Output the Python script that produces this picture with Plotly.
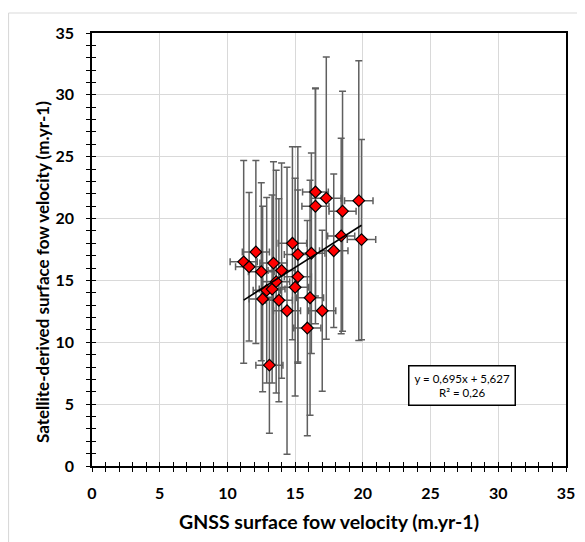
import plotly.graph_objects as go

# GNSS (x) vs satellite-derived (y) surface flow velocity, m/yr
gnss = [11.2, 11.6, 12.1, 12.5, 12.6, 12.9, 13.3, 13.4, 13.1, 13.6,
        13.8, 14.0, 14.4, 14.8, 15.0, 15.2, 15.2, 15.9, 16.1, 16.2,
        16.5, 16.5, 17.0, 17.3, 17.85, 18.4, 18.5, 19.7, 19.9]
sat = [16.5, 16.1, 17.3, 15.7, 13.5, 14.2, 14.3, 16.4, 8.15, 14.9,
       13.4, 15.8, 12.55, 18.0, 14.45, 17.1, 15.3, 11.15, 13.6, 17.2,
       21.0, 22.15, 12.55, 21.65, 17.4, 18.6, 20.6, 21.45, 18.3]
gnss_err = [1.0, 1.0, 1.0, 0.95, 1.0, 1.0, 0.95, 1.0, 1.0, 1.0,
            1.0, 1.0, 1.0, 1.05, 1.0, 1.0, 1.0, 1.0, 1.0, 1.0,
            1.0, 0.95, 1.0, 1.1, 1.05, 1.0, 1.0, 1.05, 1.05]
sat_err = [8.2, 6.0, 7.4, 7.2, 7.5, 7.5, 7.6, 8.2, 5.5, 9.0,
           8.2, 8.7, 11.6, 7.8, 8.8, 8.7, 7.0, 8.7, 9.5, 8.1,
           9.5, 8.4, 6.5, 11.4, 6.2, 7.9, 9.7, 11.3, 8.1]

slope = 0.695
intercept = 5.627
eq_text = "y = 0,695x + 5,627<br>R² = 0,26"

x_title = "GNSS surface fow velocity (m.yr-1)"
y_title = "Satellite-derived surface fow velocity (m.yr-1)"
axis_range = [0, 35]

FONT = "Lato"

fig = go.Figure()

fig.add_trace(go.Scatter(
    x=gnss, y=sat, mode="markers",
    marker=dict(symbol="diamond", size=9, color="#ff0000",
                line=dict(color="black", width=1.2)),
    error_y=dict(type="data", array=sat_err, visible=True,
                 color="#5f5f5f", thickness=1.5, width=3.5),
    error_x=dict(type="data", array=gnss_err, visible=True,
                 color="#5f5f5f", thickness=1.5, width=3.5),
    showlegend=False, hoverinfo="skip"))

x0, x1 = min(gnss), max(gnss)
fig.add_trace(go.Scatter(
    x=[x0, x1], y=[slope * x0 + intercept, slope * x1 + intercept],
    mode="lines", line=dict(color="black", width=1.6),
    showlegend=False, hoverinfo="skip"))

# invisible trace for overlay axes (inner half of cross ticks)
fig.add_trace(go.Scatter(x=[0], y=[0], xaxis="x2", yaxis="y2",
                         mode="markers", marker=dict(opacity=0),
                         showlegend=False, hoverinfo="skip"))

common = dict(range=axis_range, dtick=5, tick0=0, automargin=False)
tickfont = dict(family=FONT, size=16, color="black", weight="bold")
minor_out = dict(dtick=1, ticks="outside", ticklen=4, tickwidth=1.3,
                 tickcolor="black", showgrid=False)
minor_in = dict(dtick=1, ticks="inside", ticklen=4, tickwidth=1.3,
                tickcolor="black", showgrid=False)

# page has an 8px body margin; figure coords = page coords - 8
OFF = 8
W, H = 585 - OFF, 542 - OFF
L, R, T, B = 92 - OFF, 19, 33 - OFF, 76
pw, ph = W - L - R, H - T - B


def px_x(page_x):
    return (page_x - OFF - L) / pw


def px_y(page_y):
    return (T + ph - (page_y - OFF)) / ph


fig.update_layout(
    width=W, height=H,
    margin=dict(l=L, r=R, t=T, b=B),
    paper_bgcolor="white", plot_bgcolor="white",
    font=dict(family=FONT, color="black"),
    xaxis=dict(**common, showgrid=True, gridcolor="#d9d9d9", gridwidth=1,
               showline=True, linecolor="black", linewidth=1.5, mirror=True,
               ticks="outside", ticklen=4, tickwidth=1.3, tickcolor="black",
               minor=minor_out, tickfont=tickfont, ticklabelstandoff=8,
               zeroline=False),
    yaxis=dict(**common, showgrid=True, gridcolor="#d9d9d9", gridwidth=1,
               showline=True, linecolor="black", linewidth=1.5, mirror=True,
               ticks="outside", ticklen=4, tickwidth=1.3, tickcolor="black",
               minor=minor_out, tickfont=tickfont, ticklabelstandoff=9,
               zeroline=False),
    xaxis2=dict(**common, overlaying="x", anchor="y2", side="bottom",
                showgrid=False, showline=False, zeroline=False,
                showticklabels=False, ticks="inside", ticklen=4, tickwidth=1.3,
                tickcolor="black", minor=minor_in),
    yaxis2=dict(**common, overlaying="y", anchor="x2", side="left",
                showgrid=False, showline=False, zeroline=False,
                showticklabels=False, ticks="inside", ticklen=4, tickwidth=1.3,
                tickcolor="black", minor=minor_in),
    annotations=[
        dict(x=27.3, y=6.5, xref="x", yref="y", text=eq_text,
             showarrow=False, align="center",
             font=dict(family=FONT, size=11.5, color="black"),
             bordercolor="black", borderwidth=1.5, borderpad=5,
             bgcolor="white"),
        dict(x=px_x(329), y=px_y(521), xref="paper",
             yref="paper", text=x_title, showarrow=False,
             xanchor="center", yanchor="middle",
             font=dict(family=FONT, size=19.5, color="black", weight="bold")),
        dict(x=px_x(42), y=px_y(272), xref="paper",
             yref="paper", text=y_title, showarrow=False, textangle=-90,
             xanchor="center", yanchor="middle",
             font=dict(family=FONT, size=17, color="black", weight="bold")),
    ],
    shapes=[
        dict(type="line", xref="paper", yref="paper", x0=px_x(8.5), x1=1.2,
             y0=px_y(13), y1=px_y(13),
             line=dict(color="#d9d9d9", width=1.2)),
        dict(type="line", xref="paper", yref="paper", x0=px_x(8.5),
             x1=px_x(8.5), y0=-0.3, y1=px_y(13),
             line=dict(color="#d9d9d9", width=1.2)),
    ],
)

fig.write_html("out.html")
